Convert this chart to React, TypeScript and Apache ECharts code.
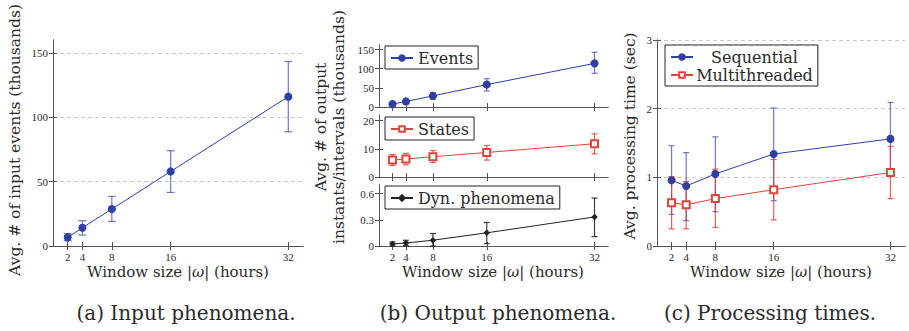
import React, { useEffect, useRef } from "react";
import * as echarts from "echarts";

// ---------- data ----------
const windowSizes = [2, 4, 8, 16, 32];
const xTickValues = [2, 4, 8, 16, 32];

// (a) input phenomena (thousands)
const inputEvents = [6.7, 14.2, 28.7, 57.9, 116];
const inputEventsLow = [4.1, 8.5, 19.1, 41.6, 88.7];
const inputEventsHigh = [9.6, 19.7, 38.5, 74, 143.3];

// (b) output phenomena (thousands)
const outEvents = [7.5, 14.5, 29, 58.5, 114];
const outEventsLow = [4.5, 8.8, 20, 42, 88];
const outEventsHigh = [10.5, 20.3, 38, 74, 143];
const outStates = [6.0, 6.4, 7.2, 8.7, 11.8];
const outStatesLow = [4.1, 4.3, 5.1, 6.0, 8.2];
const outStatesHigh = [8.0, 8.4, 9.4, 11.2, 15.3];
const outDyn = [0.023, 0.035, 0.066, 0.151, 0.333];
const outDynLow = [0.0, 0.004, 0.0, 0.027, 0.108];
const outDynHigh = [0.046, 0.066, 0.143, 0.27, 0.55];

// (c) processing times (sec)
const seqTime = [0.956, 0.874, 1.05, 1.34, 1.56];
const seqLow = [0.46, 0.37, 0.5, 0.66, 1.02];
const seqHigh = [1.46, 1.36, 1.59, 2.01, 2.09];
const mtTime = [0.63, 0.6, 0.69, 0.82, 1.07];
const mtLow = [0.25, 0.25, 0.27, 0.38, 0.69];
const mtHigh = [1.01, 0.94, 1.12, 1.26, 1.45];

// tick labels
const yTicksA = [0, 50, 100, 150];
const yTicksB1 = [0, 50, 100, 150];
const yTicksB2 = [0, 10, 20];
const yTicksB3 = [0, 0.3, 0.6];
const yTicksC = [0, 1, 2, 3];

const xAxisTitle = "Window size |{i|ω}| (hours)";
const yTitleA = "Avg. # of input events (thousands)";
const yTitleB = "Avg. # of output\ninstants/intervals (thousands)";
const yTitleC = "Avg. processing time (sec)";
const captions = ["(a) Input phenomena.", "(b) Output phenomena.", "(c) Processing times."];

// ---------- styles ----------
const SERIF = "DejaVu Serif";
const TICKFONT = "Liberation Serif";
const AX = "#555";
const TXT = "#2a2a2a";
const BLUE = "#2f3fa3";
const BLUE_ERR = "rgba(60,78,180,0.75)";
const RED = "#e3413b";
const RED_ERR = "rgba(230,55,50,0.8)";
const BLACK = "#222";

type GridSpec = { left: number; top: number; width: number; height: number };
const grids: GridSpec[] = [
  { left: 53, top: 40, width: 250, height: 206 },
  { left: 379, top: 45, width: 229, height: 62 },
  { left: 379, top: 115, width: 229, height: 62 },
  { left: 379, top: 185, width: 229, height: 61 },
  { left: 657, top: 40, width: 248, height: 206 },
];

function makeAxes(
  gi: number,
  ymax: number,
  yTicks: number[],
  showXLabels: boolean,
  dashed: boolean
) {
  const tick = { show: true, inside: true, length: 4, lineStyle: { color: AX, width: 1 } };
  const line = { show: true, lineStyle: { color: AX, width: 1 } };
  const xAxes = [
    {
      gridIndex: gi,
      type: "value",
      min: 0,
      max: 34,
      position: "bottom",
      axisLine: line,
      axisTick: { ...tick, customValues: xTickValues },
      axisLabel: {
        show: showXLabels,
        customValues: xTickValues,
        fontFamily: TICKFONT,
        fontSize: 11,
        color: TXT,
        margin: 5,
      },
      splitLine: { show: false },
    },
    {
      gridIndex: gi,
      type: "value",
      min: 0,
      max: 34,
      position: "top",
      axisLine: line,
      axisTick: { ...tick, customValues: xTickValues },
      axisLabel: { show: false },
      splitLine: { show: false },
    },
  ];
  const yAxes = [
    {
      gridIndex: gi,
      type: "value",
      min: 0,
      max: ymax,
      position: "left",
      axisLine: line,
      axisTick: { ...tick, customValues: yTicks },
      axisLabel: {
        customValues: yTicks,
        fontFamily: TICKFONT,
        fontSize: 11,
        color: TXT,
        margin: 5,
      },
      splitLine: {
        show: dashed,
        lineStyle: { color: "#c8c8c8", type: [4, 3], width: 1 },
      },
    },
    {
      gridIndex: gi,
      type: "value",
      min: 0,
      max: ymax,
      position: "right",
      axisLine: line,
      axisTick: { ...tick, customValues: yTicks },
      axisLabel: { show: false },
      splitLine: { show: false },
    },
  ];
  return { xAxes, yAxes };
}

function errSeries(gi: number, low: number[], high: number[], color: string, cap: number) {
  return {
    type: "custom",
    xAxisIndex: gi * 2,
    yAxisIndex: gi * 2,
    z: 1,
    silent: true,
    encode: { x: 0, y: [1, 2] },
    data: windowSizes.map((x, i) => [x, low[i], high[i]]),
    renderItem: (_params: any, api: any) => {
      const x = api.value(0);
      const top = api.coord([x, api.value(2)]);
      const bot = api.coord([x, api.value(1)]);
      const style = { stroke: color, lineWidth: 1.2 };
      return {
        type: "group",
        children: [
          { type: "line", shape: { x1: top[0], y1: top[1], x2: bot[0], y2: bot[1] }, style },
          { type: "line", shape: { x1: top[0] - cap, y1: top[1], x2: top[0] + cap, y2: top[1] }, style },
          { type: "line", shape: { x1: bot[0] - cap, y1: bot[1], x2: bot[0] + cap, y2: bot[1] }, style },
        ],
      };
    },
  };
}

function lineSeries(
  gi: number,
  name: string,
  values: number[],
  color: string,
  symbol: string,
  symbolSize: number
) {
  return {
    type: "line",
    name,
    xAxisIndex: gi * 2,
    yAxisIndex: gi * 2,
    z: 3,
    data: windowSizes.map((x, i) => [x, values[i]]),
    symbol,
    symbolSize,
    showAllSymbol: true,
    lineStyle: { color, width: 1 },
    itemStyle: { color, borderColor: color, borderWidth: 1.1 },
  };
}

function legendBox(names: string[], left: number, top: number, centered = false) {
  const base: any = {
    data: names,
    left,
    top,
    orient: "vertical",
    backgroundColor: "#fff",
    borderColor: "#222",
    borderWidth: 1,
    borderRadius: 0,
    padding: [4, 5, 3, 5],
    itemGap: 2,
    itemWidth: 22,
    itemHeight: 7,
    textStyle: { fontFamily: SERIF, fontSize: 16, color: TXT },
    selectedMode: false,
  };
  if (centered) {
    base.formatter = (n: string) => `{c|${n}}`;
    base.textStyle.rich = {
      c: { width: 113, align: "center", fontFamily: SERIF, fontSize: 16, color: TXT },
    };
  }
  return base;
}

export default function App() {
  const ref = useRef<HTMLDivElement>(null);

  useEffect(() => {
    document.body.style.margin = "0";
    if (!ref.current) return;
    const chart = echarts.init(ref.current, undefined, { renderer: "svg" });

    const axA = makeAxes(0, 160, yTicksA, true, true);
    const axB1 = makeAxes(1, 162, yTicksB1, false, false);
    const axB2 = makeAxes(2, 22, yTicksB2, false, false);
    const axB3 = makeAxes(3, 0.7, yTicksB3, true, false);
    const axC = makeAxes(4, 3, yTicksC, true, true);
    const all = [axA, axB1, axB2, axB3, axC];

    const rich = {
      i: { fontStyle: "italic", fontFamily: SERIF, fontSize: 15, fill: TXT, color: TXT },
    };
    const xTitle = (cx: number) => ({
      type: "text",
      x: cx,
      y: 272,
      style: {
        text: xAxisTitle,
        fontFamily: SERIF,
        fontSize: 15,
        fill: TXT,
        align: "center",
        verticalAlign: "middle",
        rich,
      },
    });
    const yTitle = (cx: number, cy: number, text: string, lh = 18) => ({
      type: "text",
      x: cx,
      y: cy,
      rotation: Math.PI / 2,
      style: {
        text,
        fontFamily: SERIF,
        fontSize: 15.5,
        lineHeight: lh,
        fill: TXT,
        align: "center",
        verticalAlign: "middle",
      },
    });
    const caption = (cx: number, text: string) => ({
      type: "text",
      x: cx,
      y: 313,
      style: {
        text,
        fontFamily: SERIF,
        fontSize: 20,
        fill: TXT,
        align: "center",
        verticalAlign: "middle",
      },
    });

    chart.setOption({
      animation: false,
      backgroundColor: "#fff",
      grid: grids.map((g) => ({ ...g, containLabel: false })),
      xAxis: all.flatMap((a) => a.xAxes),
      yAxis: all.flatMap((a) => a.yAxes),
      legend: [
        legendBox(["Events"], 385, 46),
        legendBox(["States"], 385, 117),
        legendBox(["Dyn. phenomena"], 385, 186),
        legendBox(["Sequential", "Multithreaded"], 665, 45, true),
      ],
      series: [
        errSeries(0, inputEventsLow, inputEventsHigh, BLUE_ERR, 4),
        lineSeries(0, "Input events", inputEvents, BLUE, "circle", 7),
        errSeries(1, outEventsLow, outEventsHigh, BLUE_ERR, 3),
        lineSeries(1, "Events", outEvents, BLUE, "circle", 7),
        errSeries(2, outStatesLow, outStatesHigh, RED_ERR, 3),
        lineSeries(2, "States", outStates, RED, "emptyRect", 7),
        errSeries(3, outDynLow, outDynHigh, "rgba(30,30,30,0.85)", 3),
        lineSeries(3, "Dyn. phenomena", outDyn, BLACK, "diamond", 5),
        errSeries(4, seqLow, seqHigh, BLUE_ERR, 3),
        errSeries(4, mtLow, mtHigh, RED_ERR, 3),
        lineSeries(4, "Sequential", seqTime, BLUE, "circle", 7),
        lineSeries(4, "Multithreaded", mtTime, RED, "emptyRect", 7),
      ],
      graphic: [
        xTitle(178),
        xTitle(493),
        xTitle(781),
        yTitle(15, 140, yTitleA),
        yTitle(330, 127, yTitleB, 18),
        yTitle(630, 136, yTitleC),
        caption(186, captions[0]),
        caption(498, captions[1]),
        caption(770, captions[2]),
      ],
    });

    return () => chart.dispose();
  }, []);

  return (
    <div
      ref={ref}
      style={{ position: "absolute", left: 0, top: 0, width: 909, height: 331 }}
    />
  );
}
